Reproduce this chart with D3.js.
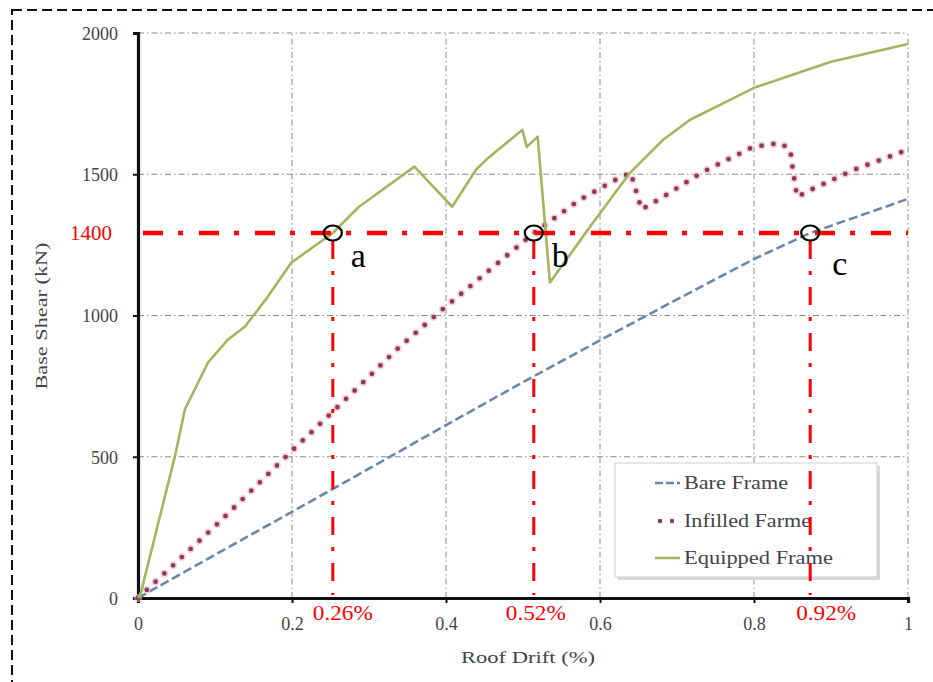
<!DOCTYPE html>
<html>
<head>
<meta charset="utf-8">
<title>Base Shear vs Roof Drift</title>
<script src="https://d3js.org/d3.v7.min.js"></script>
<style>
  body { margin: 0; background: #fff; }
  text { font-family: "Liberation Serif", "DejaVu Serif", serif; }
</style>
</head>
<body>
<div id="chart"></div>
<script>
// curve data (roof drift %, base shear kN)
const bareX = [0, 0.1, 0.2, 0.3, 0.4, 0.5, 0.6, 0.7, 0.8, 0.873, 0.95, 1.0];
const bareY = [0, 153, 305, 458, 612, 764, 912, 1057, 1200, 1292, 1365, 1413];

const infilledX = [0, 0.1, 0.198, 0.252, 0.339, 0.4, 0.514, 0.574, 0.62, 0.64, 0.654, 0.682, 0.734, 0.799, 0.834, 0.847, 0.851, 0.856, 0.874, 0.93, 1.0];
const infilledY = [0, 254, 516, 657, 887, 1032, 1292, 1410, 1480, 1505, 1375, 1420, 1509, 1597, 1611, 1587, 1505, 1420, 1445, 1516, 1587];

const equippedX = [0, 0.004, 0.048, 0.061, 0.091, 0.117, 0.139, 0.166, 0.199, 0.253, 0.287, 0.359, 0.408, 0.439, 0.452, 0.499, 0.505, 0.519, 0.535, 0.587, 0.639, 0.682, 0.717, 0.769, 0.8, 0.9, 1.0];
const equippedY = [0, 21, 502, 668, 834, 915, 961, 1057, 1187, 1292, 1385, 1527, 1385, 1516, 1551, 1657, 1597, 1633, 1117, 1314, 1505, 1622, 1693, 1763, 1806, 1898, 1961];

const seriesNames = ["Bare Frame", "Infilled Farme", "Equipped Frame"];

const xTicks = [0, 0.2, 0.4, 0.6, 0.8, 1];
const xTickLabels = ["0", "0.2", "0.4", "0.6", "0.8", "1"];
const yTicks = [0, 500, 1000, 1500, 2000];

// annotation: level line (drawn where the picture has it) and the three drift marks
const levelValue = 1292;
const levelLabel = "1400";
const markX = [0.253, 0.514, 0.873];
const markLetters = ["a", "b", "c"];
const markLabels = ["0.26%", "0.52%", "0.92%"];

let width = 933;
let height = 682;

let svg = d3.select("#chart")
    .append("svg")
    .attr("width", width)
    .attr("height", height);

svg.append("rect")
    .attr("width", width)
    .attr("height", height)
    .attr("fill", "#fff");

// dashed frame around the figure
svg.append("rect")
    .attr("x", 12)
    .attr("y", 10)
    .attr("width", 940)
    .attr("height", 690)
    .attr("fill", "none")
    .attr("stroke", "#111")
    .attr("stroke-width", 2)
    .attr("stroke-dasharray", "10,5");

let xScale = d3.scaleLinear().domain([0, 1]).range([138, 908]);
let yScale = d3.scaleLinear().domain([0, 2000]).range([598, 33]);

// grid
let grid = svg.append("g")
    .attr("stroke", "#8a8a8a")
    .attr("stroke-width", 1)
    .attr("stroke-dasharray", "6,3,1.5,3");

grid.selectAll(".gx")
    .data(xTicks.filter(d => d > 0))
    .enter()
    .append("line")
    .attr("x1", d => xScale(d))
    .attr("x2", d => xScale(d))
    .attr("y1", yScale(0))
    .attr("y2", yScale(2000));

grid.selectAll(".gy")
    .data(yTicks.filter(d => d > 0))
    .enter()
    .append("line")
    .attr("x1", xScale(0))
    .attr("x2", xScale(1))
    .attr("y1", d => yScale(d))
    .attr("y2", d => yScale(d));

// axes
let xAxis = d3.axisBottom(xScale)
    .tickValues(xTicks)
    .tickFormat((d, i) => xTickLabels[i])
    .tickSize(5)
    .tickPadding(14);

let yAxis = d3.axisLeft(yScale)
    .tickValues(yTicks)
    .tickFormat(d3.format("d"))
    .tickSize(5)
    .tickPadding(15);

let gx = svg.append("g")
    .attr("transform", "translate(0," + yScale(0) + ")")
    .call(xAxis);

let gy = svg.append("g")
    .attr("transform", "translate(" + xScale(0) + ",0)")
    .call(yAxis);

[gx, gy].forEach(function (g) {
    g.select(".domain").attr("stroke", "#111").attr("stroke-width", 3.2);
    g.selectAll(".tick line").attr("stroke", "#111").attr("stroke-width", 2);
    g.selectAll(".tick text")
        .attr("fill", "#444")
        .style("font-size", "18px")
        .style("font-family", "'Liberation Serif', serif");
});
gy.selectAll(".tick text").attr("dy", "0.35em");

// axis titles (the source figure is stretched sideways, so fix the text widths)
svg.append("text")
    .attr("transform", "rotate(-90)")
    .attr("x", -316)
    .attr("y", 47)
    .attr("font-size", 16)
    .attr("fill", "#444")
    .attr("textLength", 147)
    .attr("lengthAdjust", "spacingAndGlyphs")
    .style("text-anchor", "middle")
    .text("Base Shear (kN)");

svg.append("text")
    .attr("x", 528)
    .attr("y", 663)
    .attr("font-size", 17)
    .attr("fill", "#444")
    .attr("textLength", 134)
    .attr("lengthAdjust", "spacingAndGlyphs")
    .style("text-anchor", "middle")
    .text("Roof Drift (%)");

// curves
let line = d3.line()
    .x(d => xScale(d[0]))
    .y(d => yScale(d[1]));

let bare = bareX.map((x, i) => [x, bareY[i]]);
let infilled = infilledX.map((x, i) => [x, infilledY[i]]);
let equipped = equippedX.map((x, i) => [x, equippedY[i]]);

svg.append("path")
    .datum(bare)
    .attr("d", line)
    .attr("fill", "none")
    .attr("stroke", "#6b87a8")
    .attr("stroke-width", 2.6)
    .attr("stroke-dasharray", "9,4");

// infilled: pink halo under dark round dots
svg.append("path")
    .datum(infilled)
    .attr("d", line)
    .attr("fill", "none")
    .attr("stroke", "#f0b8c4")
    .attr("stroke-width", 8)
    .attr("stroke-linecap", "round")
    .attr("stroke-dasharray", "0,12")
    .attr("opacity", 0.6);

svg.append("path")
    .datum(infilled)
    .attr("d", line)
    .attr("fill", "none")
    .attr("stroke", "#8c3a55")
    .attr("stroke-width", 4.8)
    .attr("stroke-linecap", "round")
    .attr("stroke-dasharray", "0,12");

svg.append("path")
    .datum(equipped)
    .attr("d", line)
    .attr("fill", "none")
    .attr("stroke", "#a3b55e")
    .attr("stroke-width", 2.6)
    .attr("stroke-linejoin", "round");

// legend
let legend = svg.append("g");
legend.append("rect")
    .attr("x", 618).attr("y", 466)
    .attr("width", 262).attr("height", 114)
    .attr("fill", "#d8d8d8");
legend.append("rect")
    .attr("x", 615).attr("y", 463)
    .attr("width", 262).attr("height", 114)
    .attr("fill", "#fff")
    .attr("stroke", "#cfcfcf");

let legendY = [483, 521, 558];
let legendWidths = [104, 127, 149];
let legendStyles = [
    { stroke: "#6b87a8", width: 2.4, dash: "8,3", cap: "butt" },
    { stroke: "#8c3a55", width: 4.5, dash: "0,12", cap: "round" },
    { stroke: "#a3b55e", width: 2.6, dash: null, cap: "butt" }
];

seriesNames.forEach(function (name, i) {
    legend.append("line")
        .attr("x1", i == 1 ? 660 : 655)
        .attr("x2", i == 1 ? 673 : 680)
        .attr("y1", legendY[i])
        .attr("y2", legendY[i])
        .attr("stroke", legendStyles[i].stroke)
        .attr("stroke-width", legendStyles[i].width)
        .attr("stroke-linecap", legendStyles[i].cap)
        .attr("stroke-dasharray", legendStyles[i].dash);
    legend.append("text")
        .attr("x", 684)
        .attr("y", legendY[i] + 6)
        .attr("font-size", 18)
        .attr("fill", "#444")
        .attr("textLength", legendWidths[i])
        .attr("lengthAdjust", "spacingAndGlyphs")
        .text(name);
});

// red annotations
svg.append("line")
    .attr("x1", xScale(0) + 5)
    .attr("x2", xScale(1))
    .attr("y1", yScale(levelValue))
    .attr("y2", yScale(levelValue))
    .attr("stroke", "#ff0000")
    .attr("stroke-width", 4.5)
    .attr("stroke-dasharray", "20,15,5,16");

svg.append("text")
    .attr("x", 112)
    .attr("y", yScale(levelValue) + 7)
    .attr("font-size", 21)
    .attr("fill", "#ff0000")
    .style("text-anchor", "end")
    .text(levelLabel);

svg.selectAll(".vmark")
    .data(markX)
    .enter()
    .append("line")
    .attr("x1", d => xScale(d))
    .attr("x2", d => xScale(d))
    .attr("y1", yScale(levelValue) + 8)
    .attr("y2", yScale(0) - 3)
    .attr("stroke", "#ff0000")
    .attr("stroke-width", 3)
    .attr("stroke-dasharray", "18,12,4,12");

svg.selectAll(".circ")
    .data(markX)
    .enter()
    .append("ellipse")
    .attr("cx", d => xScale(d))
    .attr("cy", yScale(levelValue))
    .attr("rx", 9)
    .attr("ry", 7.5)
    .attr("fill", "none")
    .attr("stroke", "#000")
    .attr("stroke-width", 2.2);

svg.selectAll(".letter")
    .data(markX)
    .enter()
    .append("text")
    .attr("x", (d, i) => xScale(d) + (i == 2 ? 22 : 18))
    .attr("y", (d, i) => i == 2 ? 275 : 267)
    .attr("font-size", 34)
    .attr("fill", "#000")
    .text((d, i) => markLetters[i]);

svg.selectAll(".pct")
    .data(markX)
    .enter()
    .append("text")
    .attr("x", (d, i) => xScale(d) + [10, 2, 16][i])
    .attr("y", 620)
    .attr("font-size", 21)
    .attr("fill", "#ff0000")
    .attr("textLength", 60)
    .attr("lengthAdjust", "spacingAndGlyphs")
    .style("text-anchor", "middle")
    .text((d, i) => markLabels[i]);
</script>
</body>
</html>
